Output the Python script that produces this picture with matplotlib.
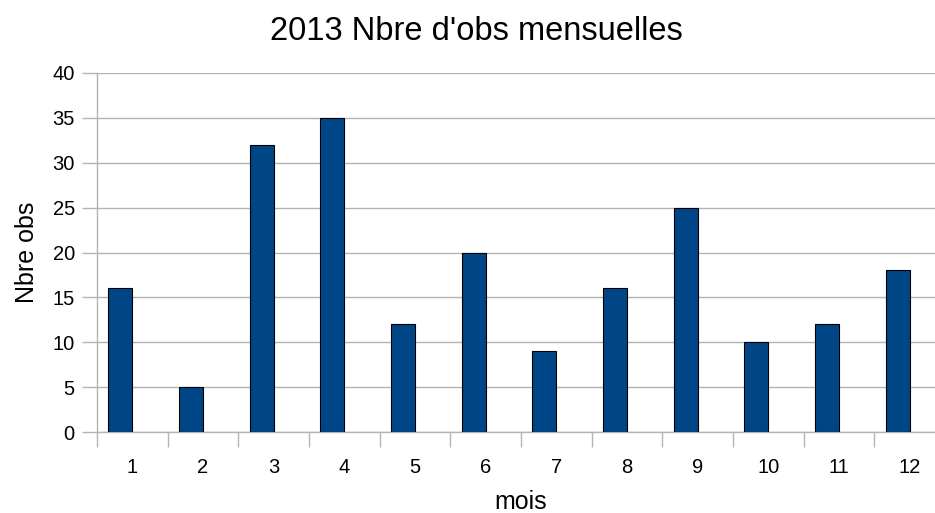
import numpy as np
import matplotlib.pyplot as plt

# monthly counts, 2013
mois = ['1', '2', '3', '4', '5', '6', '7', '8', '9', '10', '11', '12']
nb_obs = [16, 5, 32, 35, 12, 20, 9, 16, 25, 10, 12, 18]

plt.rcParams['font.family'] = ['Liberation Sans', 'DejaVu Sans']
grey = '#b3b3b3'

fig = plt.figure(figsize=(9.35, 5.13), dpi=100)
ax = fig.add_axes([97/935, 81/513, 848/935, 359/513])

x = np.arange(len(mois))
ax.bar(x, nb_obs, width=-0.34, align='edge', color='#004586',
       edgecolor='black', linewidth=0.8, zorder=3)

ax.set_xlim(-0.5, len(mois) - 0.5)
ax.set_ylim(0, 40)
ax.set_yticks(np.arange(0, 41, 5))
ax.yaxis.grid(True, color=grey, linewidth=1, zorder=0)

# labels at category centres, ticks at boundaries
ax.set_xticks(x)
ax.set_xticklabels(mois)
ax.set_xticks(np.arange(-0.5, len(mois), 1), minor=True)
ax.tick_params(axis='x', which='major', length=0, pad=19, labelsize=14.5)
ax.tick_params(axis='x', which='minor', length=11, color=grey, width=1)
ax.tick_params(axis='y', length=11, color=grey, width=1, pad=5, labelsize=14.5)

for s in ['top', 'right']:
    ax.spines[s].set_visible(False)
for s in ['left', 'bottom']:
    ax.spines[s].set_color(grey)
    ax.spines[s].set_linewidth(1)

ax.set_xlabel('mois', fontsize=18, labelpad=9)
ax.set_ylabel('Nbre obs', fontsize=18, labelpad=10)
fig.text(476/935, 1 - 40/513, "2013 Nbre d'obs mensuelles", fontsize=23.5,
         ha='center', va='baseline')

fig.savefig('out.png', dpi=100)
